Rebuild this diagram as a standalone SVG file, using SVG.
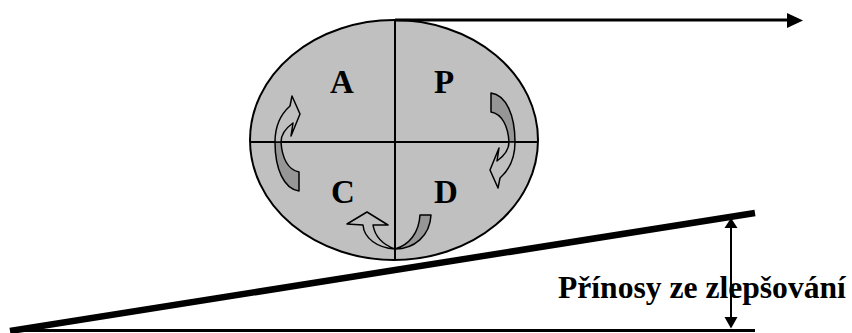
<svg xmlns="http://www.w3.org/2000/svg" width="852" height="333" viewBox="0 0 852 333">
<style>
.lbl{font-family:"Liberation Serif","Times New Roman",serif;font-weight:bold;fill:#000}
.q{font-size:33px;text-anchor:middle}
.ln{stroke:#000;fill:none}
.dark{fill:#969696;stroke:#000;stroke-width:1.5;stroke-linejoin:round}
.light{fill:#c0c0c0;stroke:#000;stroke-width:1.5;stroke-linejoin:round}
</style>
<defs>
<g id="curvedArrow">
<path class="dark" d="M491,93 C506,95 515,115 515,142 L509,142 C508,126 502,114 491,112 Z"/>
<path class="light" d="M515,142 C515,158 509,170 500,178 L498,188 L490,170 L499,148 L497,161 C504,156 509,150 509,142 Z"/>
</g>
</defs>
<g id="cycle">
<ellipse cx="394" cy="140" rx="144" ry="120" fill="#c0c0c0" stroke="#000" stroke-width="2"/>
<line class="ln" x1="395" y1="20" x2="395" y2="260" stroke-width="2"/>
<line class="ln" x1="250" y1="142" x2="538" y2="142" stroke-width="2"/>
</g>
<g id="A"><text class="lbl q" x="342" y="93">A</text></g>
<g id="P"><text class="lbl q" x="444" y="93">P</text></g>
<g id="C"><text class="lbl q" x="343" y="203">C</text></g>
<g id="D"><text class="lbl q" x="446" y="203">D</text></g>
<g id="arrowPD"><use href="#curvedArrow"/></g>
<g id="arrowCA"><use href="#curvedArrow" transform="rotate(180 395 142)"/></g>
<g id="arrowDC">
<path class="dark" d="M420,215 L431,215 C430,236 414,249 395,249 C409,245 419,233 420,215 Z"/>
<path class="light" d="M395,249 C377,248 364,238 363,225 L347,224 L367,212 L388,225 L373,225 C375,237 384,245 395,249 Z"/>
</g>
<g id="connectors">
<line class="ln" x1="395" y1="20" x2="789" y2="20" stroke-width="3"/>
<polygon points="787,13 803,20.5 787,28" fill="#000"/>
<line class="ln" x1="10" y1="331" x2="755" y2="213" stroke-width="6.5"/>
<line class="ln" x1="10" y1="330.5" x2="755" y2="330.5" stroke-width="3"/>
<line class="ln" x1="731" y1="226" x2="731" y2="319" stroke-width="2"/>
<polygon points="731,218 737.5,228 724.5,228" fill="#000"/>
<polygon points="731,328.5 737.5,317 724.5,317" fill="#000"/>
</g>
<g id="label"><text class="lbl" x="558" y="298" font-size="31.6">Přínosy ze zlepšování</text></g>
</svg>
